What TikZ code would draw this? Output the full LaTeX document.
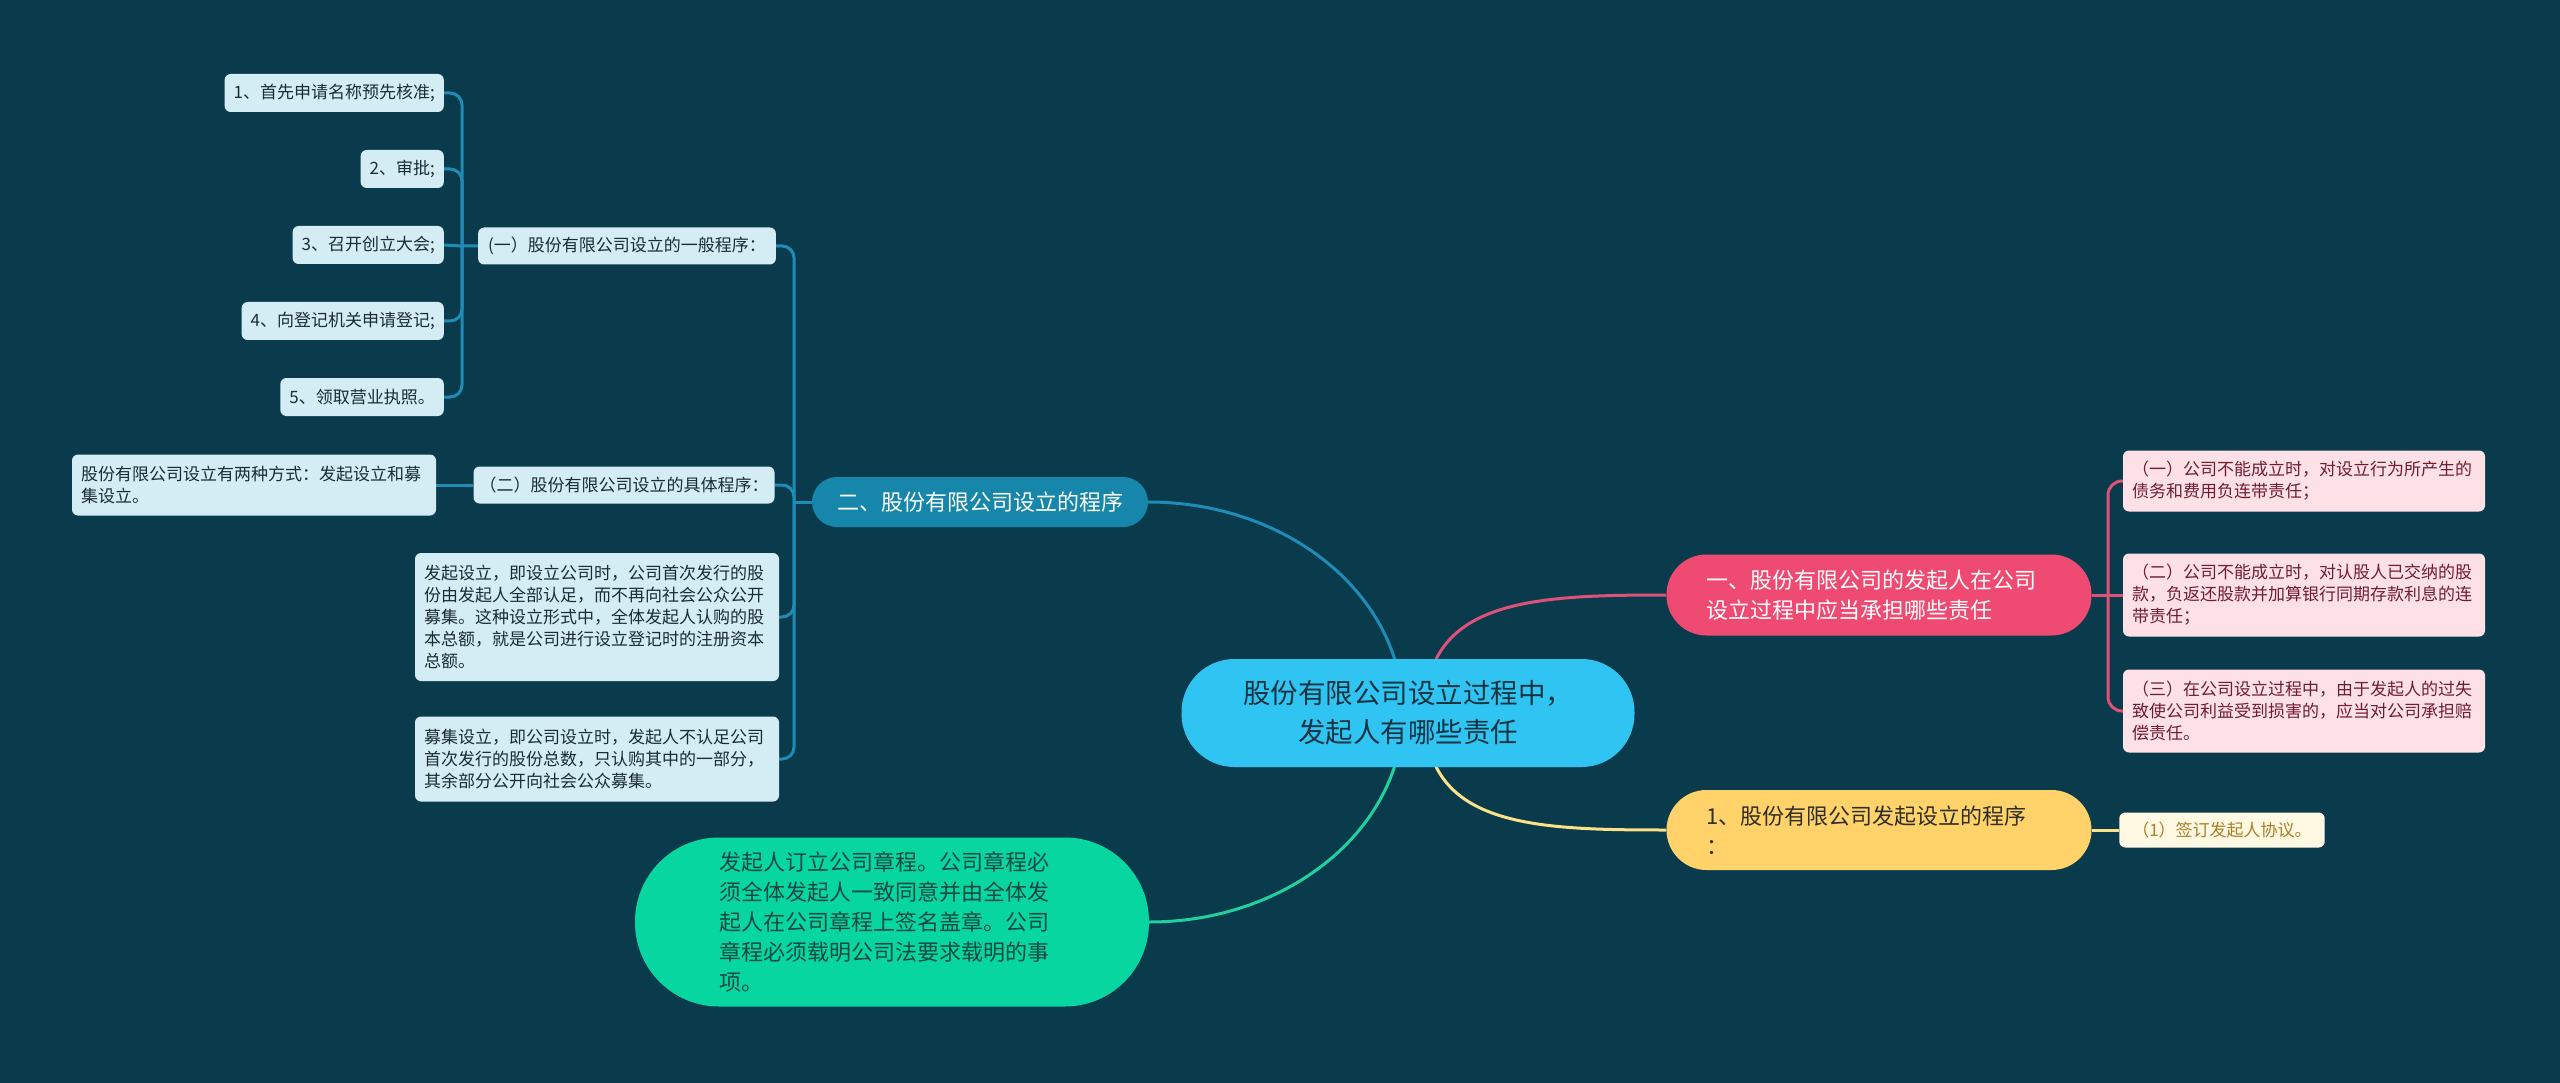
\documentclass[tikz,border=0pt]{standalone}
\usepackage{fontspec}
\setmainfont{Noto Sans CJK SC}
\usetikzlibrary{backgrounds}

\definecolor{bgcol}{RGB}{9,59,77}
\definecolor{rootfill}{RGB}{47,196,242}
\definecolor{roottext}{RGB}{20,52,66}
\definecolor{pinkfill}{RGB}{239,74,113}
\definecolor{pinkline}{RGB}{222,82,122}
\definecolor{pinklight}{RGB}{253,225,231}
\definecolor{pinktext}{RGB}{112,28,52}
\definecolor{yellowfill}{RGB}{255,210,106}
\definecolor{yellowline}{RGB}{250,226,136}
\definecolor{yellowlight}{RGB}{255,248,226}
\definecolor{yellowtext}{RGB}{168,128,42}
\definecolor{yellowdark}{RGB}{48,46,40}
\definecolor{bluefill}{RGB}{22,134,170}
\definecolor{blueline}{RGB}{30,140,182}
\definecolor{bluelight}{RGB}{212,236,243}
\definecolor{bluetext}{RGB}{26,44,54}
\definecolor{greenfill}{RGB}{8,214,160}
\definecolor{greenline}{RGB}{34,208,158}
\definecolor{greentext}{RGB}{16,72,66}

\tikzset{
  topic/.style={fill=rootfill, text=roottext, rounded corners=53pt, minimum width=453pt, minimum height=108pt, align=center, font=\fontsize{27.5}{39}\selectfont},
  mainbox/.style={rounded corners=#1, inner ysep=0pt, font=\fontsize{22}{30}\selectfont, align=left},
  subbox/.style={rounded corners=6pt, inner xsep=9pt, inner ysep=0pt, font=\fontsize{17}{22}\selectfont, align=left},
  leafbox/.style={subbox, fill=bluelight, text=bluetext, anchor=east, minimum height=38pt},
  tie/.style={line width=3pt},
}

\begin{document}
\begin{tikzpicture}[x=1pt, y=-1pt]
  \useasboundingbox (0,0) rectangle (2560,1083);

  \node[topic] (root) at (1408,713) {股份有限公司设立过程中，\\发起人有哪些责任};

  \node[mainbox=40pt, fill=pinkfill, text=white, inner xsep=40pt, text width=345pt, minimum height=81pt] (duty) at (1879,595) {一、股份有限公司的发起人在公司\\设立过程中应当承担哪些责任};
  \node[subbox, fill=pinklight, text=pinktext, text width=344pt, minimum height=61pt] (duty1) at (2304,481) {（一）公司不能成立时，对设立行为所产生的\\债务和费用负连带责任；};
  \node[subbox, fill=pinklight, text=pinktext, text width=344pt, minimum height=83pt] (duty2) at (2304,595) {（二）公司不能成立时，对认股人已交纳的股\\款，负返还股款并加算银行同期存款利息的连\\带责任；};
  \node[subbox, fill=pinklight, text=pinktext, text width=344pt, minimum height=83pt] (duty3) at (2304,711) {（三）在公司设立过程中，由于发起人的过失\\致使公司利益受到损害的，应当对公司承担赔\\偿责任。};

  \node[mainbox=40pt, fill=yellowfill, text=yellowdark, inner xsep=40pt, text width=345pt, minimum height=80pt] (found) at (1879,830) {1、股份有限公司发起设立的程序\\：};
  \node[subbox, fill=yellowlight, text=yellowtext, inner xsep=13pt, minimum height=35pt] (found1) at (2222,830) {（1）签订发起人协议。};

  \node[mainbox=25pt, fill=bluefill, text=white, inner xsep=25pt, minimum height=50pt] (proc) at (980,502) {二、股份有限公司设立的程序};
  \node[subbox, fill=bluelight, text=bluetext, inner xsep=10pt, minimum height=37pt] (general) at (627,246) {(一）股份有限公司设立的一般程序：};
  \node[subbox, fill=bluelight, text=bluetext, inner xsep=6pt, minimum height=37pt] (specific) at (624,485) {（二）股份有限公司设立的具体程序：};
  \node[subbox, fill=bluelight, text=bluetext, text width=346pt, minimum height=61pt] (ways) at (254,485) {股份有限公司设立有两种方式：发起设立和募\\集设立。};
  \node[subbox, fill=bluelight, text=bluetext, text width=346pt, minimum height=128pt] (promote) at (597,617) {发起设立，即设立公司时，公司首次发行的股\\份由发起人全部认足，而不再向社会公众公开\\募集。这种设立形式中，全体发起人认购的股\\本总额，就是公司进行设立登记时的注册资本\\总额。};
  \node[subbox, fill=bluelight, text=bluetext, text width=346pt, minimum height=85pt] (raise) at (597,759) {募集设立，即公司设立时，发起人不认足公司\\首次发行的股份总数，只认购其中的一部分，\\其余部分公开向社会公众募集。};

  \node[leafbox] (s1) at (444,93) {1、首先申请名称预先核准;};
  \node[leafbox] (s2) at (444,169) {2、审批;};
  \node[leafbox] (s3) at (444,245) {3、召开创立大会;};
  \node[leafbox] (s4) at (444,321) {4、向登记机关申请登记;};
  \node[leafbox] (s5) at (444,397) {5、领取营业执照。};

  \node[mainbox=84pt, fill=greenfill, text=greentext, text width=346pt, inner xsep=84pt, minimum height=169pt] (charter) at (892,922) {发起人订立公司章程。公司章程必\\须全体发起人一致同意并由全体发\\起人在公司章程上签名盖章。公司\\章程必须载明公司法要求载明的事\\项。};

  \coordinate (hubL) at (1403,713);
  \coordinate (hubR) at (1425,713);
  \coordinate (dutyfork) at (2108,595);
  \coordinate (procfork) at (794,502);
  \coordinate (genfork) at (462,246);

  \begin{pgfonlayer}{background}
    \fill[bgcol] (0,0) rectangle (2560,1083);

    \draw[tie, blueline] (proc.east) .. controls (1289,502) and (1403,596) .. (hubL);
    \draw[tie, greenline] (hubL) .. controls (1403,828) and (1289,922) .. (charter.east);
    \draw[tie, pinkline] (hubR) .. controls (1425,600) and (1530,595) .. (duty.west);
    \draw[tie, yellowline] (hubR) .. controls (1425,826) and (1530,830) .. (found.west);

    \draw[tie, pinkline] (duty.east) -- (dutyfork) -- (duty2.west);
    \draw[tie, pinkline, rounded corners=14pt] (dutyfork) |- (duty1.west);
    \draw[tie, pinkline, rounded corners=14pt] (dutyfork) |- (duty3.west);

    \draw[tie, yellowline] (found.east) -- (found1.west);

    \draw[tie, blueline] (proc.west) -- (procfork);
    \foreach \n in {general,specific,promote,raise}
      \draw[tie, blueline, rounded corners=12pt] (procfork) |- (\n.east);
    \draw[tie, blueline] (specific.west) -- (ways.east);

    \draw[tie, blueline] (general.west) -- (genfork) -- (s3.east);
    \foreach \n in {s1,s2,s4,s5}
      \draw[tie, blueline, rounded corners=12pt] (genfork) |- (\n.east);
  \end{pgfonlayer}
\end{tikzpicture}
\end{document}
